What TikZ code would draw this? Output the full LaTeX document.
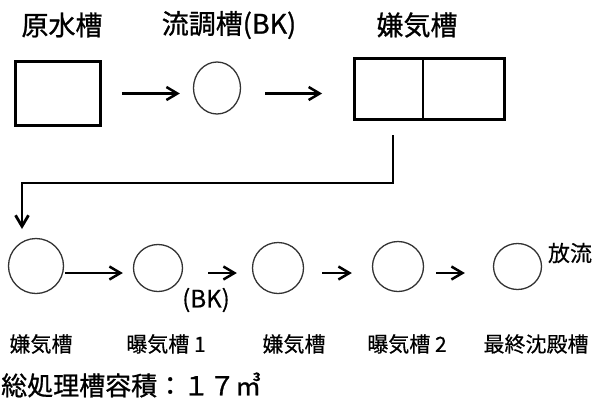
\documentclass[tikz,border=0pt]{standalone}
\usepackage{fontspec}
\setmainfont[FakeBold=0.4]{Noto Sans CJK JP}
\newfontfamily\headfont[FakeBold=0.9]{Noto Sans CJK JP}
\usetikzlibrary{arrows.meta,shapes.geometric,scopes}

\tikzset{
  tank/.style={draw, line width=2.8pt, inner sep=0pt},
  basin/.style={ellipse, draw=black!80, line width=1.3pt, inner sep=0pt},
  flow/.style={line width=2.5pt, -{Straight Barb[length=11pt,width=13pt]}},
  headlabel/.style={font=\headfont\fontsize{27}{29}\selectfont},
  unitlabel/.style={font=\fontsize{21}{23}\selectfont},
}

\begin{document}
\begin{tikzpicture}[x=1pt,y=-1pt]
\useasboundingbox (0,0) rectangle (593,399);

% upper line
{ [headlabel]
  \node (lraw) at (62,25) {原水槽};
  \node (leq) at (229,25) {流調槽(BK)};
  \node (lan) at (417,25) {嫌気槽};
}
\node[tank, minimum width=85pt, minimum height=64pt] (raw) at (58,93.5) {};
\node[basin, minimum width=47pt, minimum height=52pt] (eq) at (217,88) {};
\node[tank, minimum width=150pt, minimum height=61pt] (an) at (429.5,89) {};
\draw[line width=2.8pt] ([xshift=-6.5pt]an.north) -- ([xshift=-6.5pt]an.south);

{ [flow]
  \draw[shorten <=20pt, shorten >=13pt] (raw.east) -- (raw.east -| eq.west);
  \draw[shorten <=24pt, shorten >=31pt] (eq.east |- raw.east) -- (an.west |- raw.east);
}

% return to the lower line
\coordinate (drop) at (393,135);
\coordinate (bend) at (22,183);
\coordinate (entry) at (22,229);
\draw[flow, line width=2.8pt] (drop) |- (bend) -- (entry);

% lower line
\coordinate (row) at (0,273);
\node[basin, minimum width=55pt, minimum height=55pt] (an1) at (36,266) {};
\node[basin, minimum width=49pt, minimum height=47pt] (ae1) at (158,268) {};
\node[basin, minimum width=51pt, minimum height=51pt] (an2) at (278,268) {};
\node[basin, minimum width=51pt, minimum height=50pt] (ae2) at (398,266.5) {};
\node[basin, minimum width=48pt, minimum height=46pt] (fin) at (517.5,266.5) {};

{ [flow]
  \draw[shorten <=1pt, shorten >=10pt] (an1.east |- row) -- (ae1.west |- row);
  \draw[shorten <=25pt, shorten >=15pt] (ae1.east |- row) -- (an2.west |- row);
  \draw[shorten <=18pt, shorten >=20pt] (an2.east |- row) -- (ae2.west |- row);
  \draw[shorten <=12pt, shorten >=28pt] (ae2.east |- row) -- (fin.west |- row);
}

\node[font=\fontsize{24}{26}\selectfont] (bk) at (206,300) {(BK)};
\node[font=\fontsize{22}{24}\selectfont] (out) at (570,253) {放流};

{ [unitlabel]
  \node (lan1) at (41,344) {嫌気槽};
  \node (lae1) at (166,344) {曝気槽 1};
  \node (lan2) at (294,344) {嫌気槽};
  \node (lae2) at (407,344) {曝気槽 2};
  \node (lfin) at (536,344) {最終沈殿槽};
}

\node[headlabel, font=\headfont\fontsize{26}{28}\selectfont, anchor=west, inner sep=0pt] (total) at (1,385) {総処理槽容積：１７㎥};
\end{tikzpicture}
\end{document}
